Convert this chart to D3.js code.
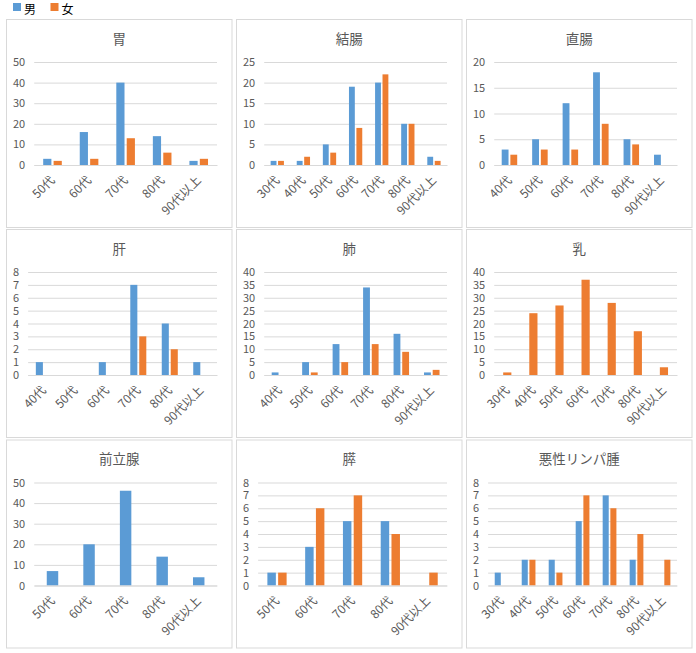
<!DOCTYPE html>
<html><head><meta charset="utf-8">
<script src="https://cdn.jsdelivr.net/npm/d3@7"></script>
<style>
body{margin:0;background:#fff;}
text{font-family:"Noto Sans CJK JP","Noto Sans",sans-serif;}
</style></head>
<body><svg id="c" width="696" height="653"></svg>
<script>
// ---- data ----
const seriesNames = ["男", "女"];
const seriesColors = ["#5B9BD5", "#ED7D31"];

const titles = ["胃", "結腸", "直腸", "肝", "肺", "乳", "前立腺", "膵", "悪性リンパ腫"];

const cats5 = ["50代", "60代", "70代", "80代", "90代以上"];
const cats6 = ["40代", "50代", "60代", "70代", "80代", "90代以上"];
const cats7 = ["30代", "40代", "50代", "60代", "70代", "80代", "90代以上"];

const stomachMale = [3, 16, 40, 14, 2];
const stomachFemale = [2, 3, 13, 6, 3];
const colonMale = [1, 1, 5, 19, 20, 10, 2];
const colonFemale = [1, 2, 3, 9, 22, 10, 1];
const rectumMale = [3, 5, 12, 18, 5, 2];
const rectumFemale = [2, 3, 3, 8, 4, 0];
const liverMale = [1, 0, 1, 7, 4, 1];
const liverFemale = [0, 0, 0, 3, 2, 0];
const lungMale = [1, 5, 12, 34, 16, 1];
const lungFemale = [0, 1, 5, 12, 9, 2];
const breastFemale = [1, 24, 27, 37, 28, 17, 3];
const prostateMale = [7, 20, 46, 14, 4];
const pancreasMale = [1, 3, 5, 5, 0];
const pancreasFemale = [1, 6, 7, 4, 1];
const lymphomaMale = [1, 2, 2, 5, 7, 2, 0];
const lymphomaFemale = [0, 2, 1, 7, 6, 4, 2];

const yMaxes = [50, 25, 20, 8, 40, 40, 50, 8, 8];
const ySteps = [10, 5, 5, 1, 5, 5, 10, 1, 1];

const panels = [
  {cats: cats5, series: [stomachMale, stomachFemale]},
  {cats: cats7, series: [colonMale, colonFemale]},
  {cats: cats6, series: [rectumMale, rectumFemale]},
  {cats: cats6, series: [liverMale, liverFemale]},
  {cats: cats6, series: [lungMale, lungFemale]},
  {cats: cats7, series: [null, breastFemale]},
  {cats: cats5, series: [prostateMale, null]},
  {cats: cats5, series: [pancreasMale, pancreasFemale]},
  {cats: cats7, series: [lymphomaMale, lymphomaFemale]}
];

// ---- drawing ----
const svg = d3.select("#c");
const textColor = "#595959";
const gridColor = "#D9D9D9";
const numFont = '"Noto Sans","Noto Sans CJK JP",sans-serif';

// legend
const lg = svg.append("g");
seriesNames.forEach((n, i) => {
  const x0 = 13 + i * 37.5;
  lg.append("rect").attr("x", x0).attr("y", 3).attr("width", 8).attr("height", 8).attr("fill", seriesColors[i]);
  lg.append("text").attr("x", x0 + 11).attr("y", 13.5).attr("font-size", 12).attr("fill", "#000").text(n);
});

const panelXs = [6, 236, 466];
const panelYs = [19, 229, 439.5];
const pw = 225.5, ph = 208;

const measure = svg.append("text").attr("font-size", 11).attr("font-family", numFont).attr("visibility", "hidden");
function tw(s) { measure.text(s); return measure.node().getComputedTextLength(); }

panels.forEach((p, idx) => {
  const px = panelXs[idx % 3], py = panelYs[Math.floor(idx / 3)];
  const g = svg.append("g").attr("transform", `translate(${px},${py})`);
  g.append("rect").attr("x", 0.5).attr("y", 0.5).attr("width", pw).attr("height", ph)
    .attr("fill", "#fff").attr("stroke", gridColor);

  g.append("text").attr("x", pw / 2 + 0.5).attr("y", 24.5).attr("text-anchor", "middle")
    .attr("font-size", 13.5).attr("fill", textColor).text(titles[idx]);

  const ticks = d3.range(0, yMaxes[idx] + 0.001, ySteps[idx]);
  const maxW = d3.max(ticks, t => tw(String(t)));
  const left = 7 + maxW + 9, right = 211, top = 43, bottom = 146;

  const y = d3.scaleLinear().domain([0, yMaxes[idx]]).range([bottom, top]);
  const x = d3.scaleBand().domain(p.cats).range([left, right]).paddingInner(0).paddingOuter(0);

  const yAxis = d3.axisLeft(y).tickValues(ticks).tickSize(-(right - left)).tickPadding(9);
  const ya = g.append("g").attr("transform", `translate(${left},0)`).call(yAxis);
  ya.select(".domain").remove();
  ya.selectAll(".tick line").attr("stroke", gridColor);
  ya.selectAll(".tick text").attr("font-size", 11).attr("fill", textColor)
    .attr("font-family", numFont);

  const active = p.series.map((s, i) => ({s, i})).filter(d => d.s);
  const n = active.length;
  const band = x.bandwidth();
  let bw, offsets;
  if (n === 1) { bw = band / 3.19; offsets = [-bw / 2]; }
  else { bw = band / 4.46; offsets = [-(2.27 * bw) / 2, -(2.27 * bw) / 2 + 1.27 * bw]; }

  active.forEach((d, k) => {
    g.append("g").selectAll("rect").data(d.s.map((v, j) => ({v, c: p.cats[j]})))
      .join("rect")
      .attr("x", e => x(e.c) + band / 2 + offsets[k])
      .attr("width", bw)
      .attr("y", e => y(e.v))
      .attr("height", e => y(0) - y(e.v))
      .attr("fill", seriesColors[d.i]);
  });

  // x axis
  const xa = g.append("g").attr("transform", `translate(0,${bottom})`)
    .call(d3.axisBottom(x).tickSize(0).tickPadding(0));
  xa.select(".domain").attr("stroke", gridColor);
  xa.selectAll(".tick text").attr("font-size", 12).attr("fill", textColor)
    .attr("font-family", '"Noto Sans CJK JP","Noto Sans",sans-serif')
    .attr("text-anchor", "end").attr("y", 0).attr("dy", "0.35em")
    .attr("transform", "translate(0,13) rotate(-45)");
});
measure.remove();
</script>
</body></html>
